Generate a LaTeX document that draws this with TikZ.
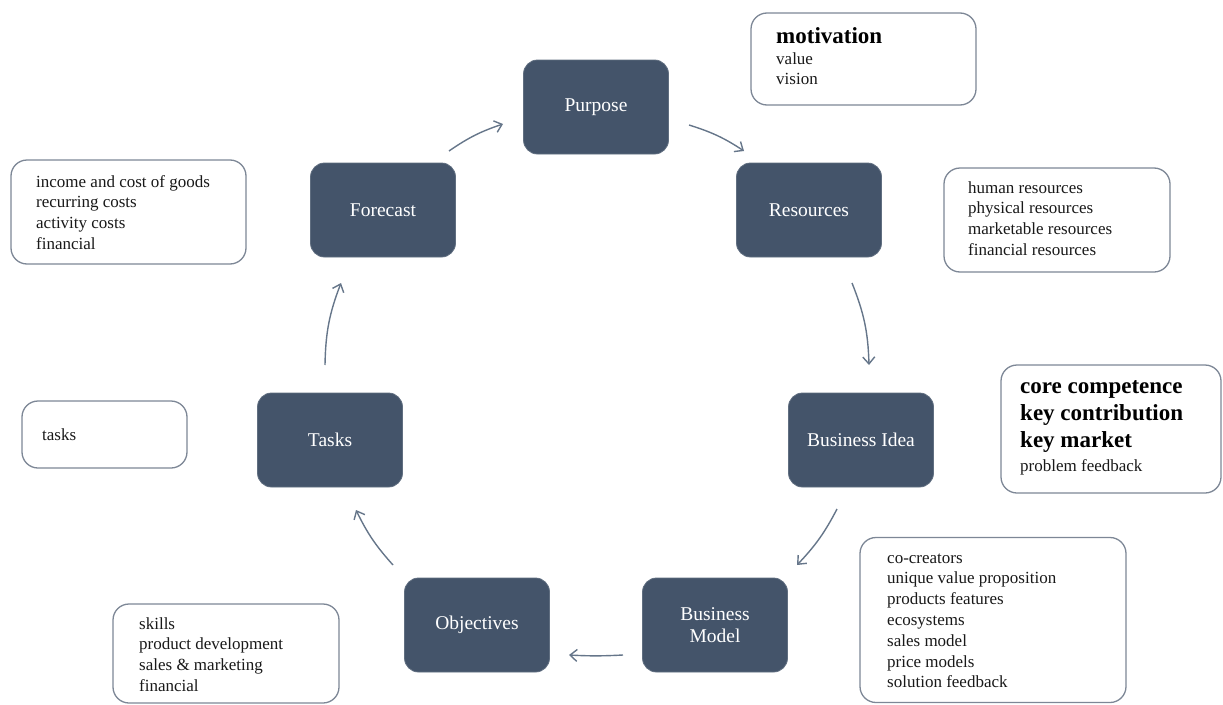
\documentclass[tikz,border=0pt]{standalone}
\usepackage{fontspec}
\setmainfont{Liberation Serif}
\usetikzlibrary{arrows.meta}
\definecolor{slate}{HTML}{44546A}
\definecolor{edgec}{HTML}{7D8796}
\definecolor{arrc}{HTML}{66768A}
\newcommand{\lines}[1]{\begin{tabular}[t]{@{}l@{}}#1\end{tabular}}
\begin{document}
\begin{tikzpicture}[x=1pt,y=1pt,
  stage/.style={fill=slate, draw=slate!85!white, line width=0.8pt, rounded corners=14pt, minimum width=145pt, minimum height=94pt, text=white, font=\fontsize{19.5}{22}\selectfont, align=center, inner sep=0},
  note/.style={draw=edgec, line width=1.3pt, rounded corners=16pt, fill=white, inner sep=0},
  txt/.style={anchor=base west, inner sep=0, font=\fontsize{17}{20.8}\selectfont, text=black!90},
  bigtxt/.style={anchor=base west, inner sep=0, font=\fontsize{23}{27}\selectfont\bfseries, text=black},
  flow/.style={draw=arrc, line width=1.4pt, -{Straight Barb[length=7pt,width=12pt]}}]
\useasboundingbox (0,0) rectangle (1223,-704);
% stages
\node[stage] (purpose) at (596,-107) {Purpose};
\node[stage] (resources) at (809,-210) {Resources};
\node[stage] (idea) at (861,-440) {Business Idea};
\node[stage] (model) at (715,-625) {Business\\Model};
\node[stage] (objectives) at (477,-625) {Objectives};
\node[stage] (tasks) at (330,-440) {Tasks};
\node[stage] (forecast) at (383,-210) {Forecast};
% notes
\node[note, minimum width=225pt, minimum height=92pt] (nmot) at (863.5,-59) {};
\node[note, minimum width=226pt, minimum height=104pt] (nres) at (1057,-220) {};
\node[note, minimum width=220pt, minimum height=128pt] (ncore) at (1111,-429) {};
\node[note, minimum width=266pt, minimum height=165pt] (nco) at (993,-620) {};
\node[note, minimum width=226pt, minimum height=99pt] (nskills) at (226,-653.5) {};
\node[note, minimum width=165pt, minimum height=67pt] (ntasks) at (104.5,-434.5) {};
\node[note, minimum width=235pt, minimum height=104pt] (nincome) at (128.5,-212) {};
% note texts
\node[bigtxt] (tmot) at (776,-43) {motivation};
\node[txt] (tmotb) at (776,-64) {\lines{value\\vision}};
\node[txt] (tres) at (968,-193) {\lines{human resources\\physical resources\\marketable resources\\financial resources}};
\node[bigtxt] (tcore) at (1020,-393) {\lines{core competence\\key contribution\\key market}};
\node[txt] (tcoreb) at (1020,-471) {problem feedback};
\node[txt] (tco) at (887,-563) {\lines{co-creators\\unique value proposition\\products features\\ecosystems\\sales model\\price models\\solution feedback}};
\node[txt] (tskills) at (139,-629) {\lines{skills\\product development\\sales \& marketing\\financial}};
\node[txt] (ttasks) at (42,-440) {tasks};
\node[txt] (tincome) at (36,-187) {\lines{income and cost of goods\\recurring costs\\activity costs\\financial}};
% arrow ends
\coordinate (a1s) at (449,-151); \coordinate (a1e) at (503,-124);
\coordinate (a2s) at (689,-125); \coordinate (a2e) at (744,-151);
\coordinate (a3s) at (852,-283); \coordinate (a3e) at (869,-365);
\coordinate (a4s) at (837,-509); \coordinate (a4e) at (797,-565);
\coordinate (a5s) at (623,-655); \coordinate (a5e) at (569,-655);
\coordinate (a6s) at (393,-565); \coordinate (a6e) at (356,-510);
\coordinate (a7s) at (325,-365); \coordinate (a7e) at (341,-283);
\draw[flow] (a1s) to[bend left=8] (a1e);
\draw[flow] (a2s) to[bend left=8] (a2e);
\draw[flow] (a3s) to[bend left=10] (a3e);
\draw[flow] (a4s) to[bend left=8] (a4e);
\draw[flow] (a5s) to[bend left=3] (a5e);
\draw[flow] (a6s) to[bend left=8] (a6e);
\draw[flow] (a7s) to[bend left=10] (a7e);
\end{tikzpicture}
\end{document}
